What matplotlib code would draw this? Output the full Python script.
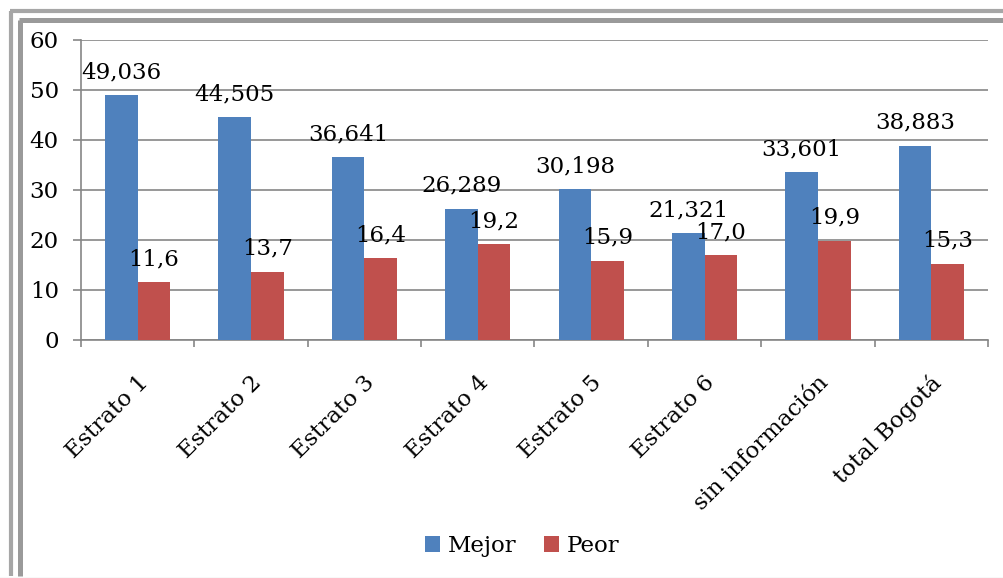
import matplotlib
matplotlib.use('Agg')
import matplotlib.pyplot as plt
import matplotlib.transforms as mtransforms
from matplotlib.lines import Line2D
import numpy as np

# datos
categorias = ["Estrato 1", "Estrato 2", "Estrato 3", "Estrato 4", "Estrato 5",
              "Estrato 6", "sin información", "total Bogotá"]
mejor = [49.036, 44.505, 36.641, 26.289, 30.198, 21.321, 33.601, 38.883]
peor = [11.6, 13.7, 16.4, 19.2, 15.9, 17.0, 19.9, 15.3]
yticks = [0, 10, 20, 30, 40, 50, 60]

AZUL = '#4F81BD'
ROJO = '#C0504D'
GRIS = '#868686'
FUENTE = 'DejaVu Serif'
TAM = 16.5

W, H = 1004, 578
fig = plt.figure(figsize=(W / 100, H / 100), dpi=100)
plt.rcParams['font.family'] = FUENTE

def fx(px):
    return px / W

def fy(py):
    return 1 - py / H

ax = fig.add_axes([fx(81), fy(340), fx(988) - fx(81), 300 / H])

x = np.arange(len(categorias))
ancho = 0.288
b1 = ax.bar(x - ancho / 2, mejor, ancho, color=AZUL, label='Mejor', zorder=3)
b2 = ax.bar(x + ancho / 2, peor, ancho, color=ROJO, label='Peor', zorder=3)

# etiquetas de valores con coma decimal
for xi, v in zip(x, mejor):
    ax.annotate(f"{v:.3f}".replace('.', ','), (xi - ancho / 2, v), xytext=(0, 12),
                textcoords='offset points', ha='center', va='baseline', fontsize=TAM)
for xi, v in zip(x, peor):
    ax.annotate(f"{v:.1f}".replace('.', ','), (xi + ancho / 2, v), xytext=(0, 12),
                textcoords='offset points', ha='center', va='baseline', fontsize=TAM)

ax.set_xlim(-0.5, len(categorias) - 0.5)
ax.set_ylim(0, 60)
ax.set_yticks(yticks)
ax.yaxis.grid(True, color=GRIS, lw=1.2, zorder=0)
ax.set_axisbelow(True)

for s in ['top', 'right']:
    ax.spines[s].set_visible(False)
for s in ['left', 'bottom']:
    ax.spines[s].set_color(GRIS)
    ax.spines[s].set_linewidth(1.2)

ax.tick_params(axis='y', length=6, width=1.2, color=GRIS, pad=10, labelsize=TAM)
ax.set_xticks(np.arange(-0.5, len(categorias), 1))
ax.set_xticklabels([])
ax.tick_params(axis='x', which='major', length=5, width=1.2, color=GRIS)
ax.set_xticks(x, minor=True)
ax.set_xticklabels(categorias, minor=True, rotation=45, ha='right', va='center',
                   rotation_mode='anchor', fontsize=TAM)
ax.tick_params(axis='x', which='minor', length=0, pad=24)
desplaza = mtransforms.ScaledTranslation(7 / 100, -6 / 100, fig.dpi_scale_trans)
for lab in ax.get_xticklabels(minor=True):
    lab.set_transform(lab.get_transform() + desplaza)

fig.legend(handles=[b1, b2], labels=['Mejor', 'Peor'], loc='center',
           bbox_to_anchor=(fx(522), fy(546)), ncol=2, frameon=False, fontsize=TAM,
           handlelength=0.65, handleheight=0.65, handletextpad=0.35, columnspacing=1.2)

# marco con sombra estilo excel (solo izquierda y arriba visibles)
for pos, col, lw in [(11.5, '#A6A6A6', 3.0), (20.5, '#9A9A9A', 3.6)]:
    fig.add_artist(Line2D([fx(pos), fx(pos)], [fy(pos - 1), fy(576)], transform=fig.transFigure,
                          color=col, lw=lw, solid_capstyle='butt'))
    fig.add_artist(Line2D([fx(pos - 1.5), 1], [fy(pos - 1), fy(pos - 1)], transform=fig.transFigure,
                          color=col, lw=lw, solid_capstyle='butt'))
fig.add_artist(Line2D([0, 1], [fy(577.5), fy(577.5)], transform=fig.transFigure,
                      color='#E0E0E0', lw=1))

fig.savefig('out.png', dpi=100)
